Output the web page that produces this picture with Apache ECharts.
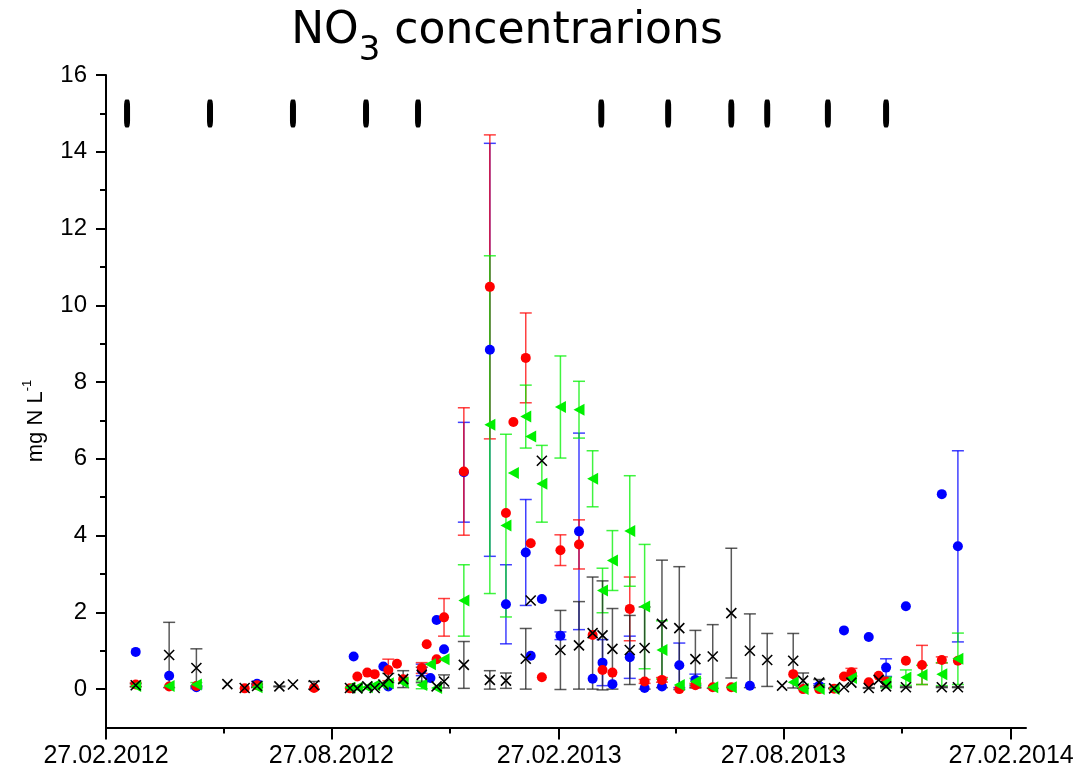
<!DOCTYPE html>
<html>
<head>
<meta charset="utf-8">
<script src="https://cdn.jsdelivr.net/npm/echarts@6/dist/echarts.min.js"></script>
<style>html,body{margin:0;padding:0;background:#fff;}#c{width:1077px;height:773px;}</style>
</head>
<body>
<div id="c"></div>
<script>
// ---------- data ----------
const tickLabels = ['27.02.2012','27.08.2012','27.02.2013','27.08.2013','27.02.2014'];
const minorTickDates = ['2012-06-01','2012-12-01','2013-06-01','2013-12-01'];
const yMajorTicks = [0,2,4,6,8,10,12,14,16];
const yMinorTicks = [1,3,5,7,9,11,13,15];

const eventDates = ['2012-03-15','2012-05-21','2012-07-27','2012-09-24','2012-11-05','2013-04-02','2013-05-26','2013-07-16','2013-08-14','2013-10-02','2013-11-18'];
const eventLevel = 15;

const blueDates = ['2012-03-22','2012-04-18','2012-05-10','2012-06-28','2012-09-14','2012-10-08','2012-10-12','2012-11-08','2012-11-15','2012-11-20','2012-11-26','2012-12-12','2013-01-02','2013-01-15','2013-01-31','2013-02-04','2013-02-13','2013-02-28','2013-03-15','2013-03-26','2013-04-03','2013-04-11','2013-04-25','2013-05-07','2013-05-21','2013-06-04','2013-06-17','2013-07-31','2013-09-25','2013-10-15','2013-11-04','2013-11-18','2013-12-04','2014-01-02','2014-01-15'];
const blueValues = [0.97,0.35,0.05,0.14,0.85,0.59,0.07,0.5,0.29,1.8,1.04,5.65,8.84,2.21,3.56,0.87,2.35,1.39,4.11,0.27,0.69,0.13,0.83,0.03,0.07,0.62,0.24,0.09,0.09,1.53,1.36,0.56,2.16,5.08,3.72];
const blueErr = [0,0,0.04,0.06,0,0,0,0.15,0,0,0,1.3,5.38,1.03,1.38,0,0,0.1,2.56,0,0.6,0,0.55,0,0,0.58,0.15,0,0.05,0,0,0.23,0,0,2.49];

const redDates = ['2012-03-22','2012-04-18','2012-05-10','2012-06-18','2012-06-28','2012-08-13','2012-09-11','2012-09-17','2012-09-25','2012-10-01','2012-10-12','2012-10-19','2012-10-24','2012-11-08','2012-11-12','2012-11-20','2012-11-26','2012-12-12','2013-01-02','2013-01-15','2013-01-21','2013-01-31','2013-02-04','2013-02-13','2013-02-28','2013-03-15','2013-03-26','2013-04-03','2013-04-11','2013-04-25','2013-05-07','2013-05-21','2013-06-04','2013-06-17','2013-07-01','2013-07-16','2013-09-04','2013-09-12','2013-09-25','2013-10-07','2013-10-15','2013-10-21','2013-11-04','2013-11-12','2013-11-18','2013-12-04','2013-12-17','2014-01-02','2014-01-15'];
const redValues = [0.12,0.07,0.08,0.02,0.1,0.03,0.02,0.33,0.43,0.39,0.5,0.66,0.26,0.55,1.17,0.78,1.87,5.67,10.48,4.59,6.96,8.63,3.8,0.31,3.62,3.77,1.41,0.5,0.43,2.09,0.2,0.24,0.0,0.1,0.05,0.05,0.39,0.0,0.0,0.01,0.33,0.44,0.18,0.35,0.2,0.74,0.63,0.76,0.74];
const redErr = [0.05,0,0,0,0.05,0,0,0,0,0,0.28,0,0,0.14,0,0,0.49,1.66,3.96,0,0,1.17,0,0,0.4,0.64,0,0,0,0.83,0.05,0.06,0,0.05,0,0,0,0,0,0,0,0.1,0,0,0,0,0.51,0.08,0];

const greenDates = ['2012-03-22','2012-04-18','2012-05-10','2012-06-28','2012-09-11','2012-09-17','2012-09-25','2012-10-01','2012-10-08','2012-10-12','2012-10-24','2012-11-08','2012-11-15','2012-11-20','2012-11-26','2012-12-12','2013-01-02','2013-01-15','2013-01-21','2013-01-31','2013-02-04','2013-02-13','2013-02-28','2013-03-15','2013-03-26','2013-04-03','2013-04-11','2013-04-25','2013-05-07','2013-05-21','2013-06-04','2013-06-17','2013-07-01','2013-07-16','2013-09-04','2013-09-12','2013-09-25','2013-10-07','2013-10-21','2013-11-18','2013-12-04','2013-12-17','2014-01-02','2014-01-15'];
const greenValues = [0.08,0.08,0.12,0.05,0.04,0.04,0.05,0.1,0.12,0.15,0.17,0.11,0.65,0.03,0.78,2.31,6.89,4.26,5.63,7.1,6.58,5.35,7.35,7.28,5.48,2.57,3.35,4.12,2.15,1.02,0.11,0.2,0.05,0.05,0.18,0.0,0.0,0.0,0.29,0.17,0.3,0.37,0.39,0.79];
const greenErr = [0,0,0.05,0,0,0,0,0,0,0,0,0.1,0,0,0,0.93,4.4,2.38,0,0.82,0,1.0,1.33,0.74,0.73,0.58,0.78,1.44,1.62,0.76,0,0.08,0,0,0,0,0,0,0,0.14,0.2,0.25,0.3,0.67];

const blackDates = ['2012-03-22','2012-04-18','2012-05-10','2012-06-04','2012-06-18','2012-06-28','2012-07-16','2012-07-27','2012-08-13','2012-09-11','2012-09-17','2012-09-25','2012-10-01','2012-10-08','2012-10-12','2012-10-24','2012-11-08','2012-11-20','2012-11-26','2012-12-12','2013-01-02','2013-01-15','2013-01-31','2013-02-04','2013-02-13','2013-02-28','2013-03-15','2013-03-26','2013-04-03','2013-04-11','2013-04-25','2013-05-07','2013-05-21','2013-06-04','2013-06-17','2013-07-01','2013-07-16','2013-07-31','2013-08-14','2013-08-26','2013-09-04','2013-09-12','2013-09-25','2013-10-07','2013-10-15','2013-10-21','2013-11-04','2013-11-12','2013-11-18','2013-12-04','2014-01-02','2014-01-15'];
const blackValues = [0.1,0.89,0.55,0.13,0.03,0.08,0.07,0.12,0.1,0.03,0.02,0.07,0.03,0.12,0.29,0.26,0.37,0.07,0.2,0.63,0.24,0.22,0.79,2.31,5.95,1.02,1.14,1.46,1.4,1.05,1.02,1.07,1.7,1.59,0.78,0.85,1.98,1.0,0.76,0.09,0.74,0.22,0.17,0.02,0.05,0.17,0.03,0.24,0.07,0.05,0.05,0.05];
const blackErr = [0.04,0.85,0.5,0,0,0.04,0.01,0,0.1,0,0,0,0,0,0.12,0.22,0.2,0,0.17,0.61,0.24,0.2,0.79,0,0,1.03,1.14,1.46,1.42,1.05,0.9,1.07,1.66,1.6,0.75,0.83,1.69,0.96,0.69,0,0.71,0.2,0.08,0.01,0,0,0.01,0,0.01,0.01,0.01,0.01];

// ---------- helpers ----------
const T0 = Date.UTC(2012, 1, 27);
function isoDay(s){ const p = s.split('-').map(Number); return (Date.UTC(p[0], p[1]-1, p[2]) - T0) / 864e5; }
function dmyDay(s){ const p = s.split('.').map(Number); return (Date.UTC(p[2], p[1]-1, p[0]) - T0) / 864e5; }
const tickDays = tickLabels.map(dmyDay);
const minorDays = minorTickDates.map(isoDay);

const FONT = 'Liberation Sans';
const BLUE = '#0000ff', RED = '#ff0000', GREEN = '#00f000', BLACK = '#000000';

function pts(dates, vals){ return dates.map((d,i) => [isoDay(d), vals[i]]); }
function errSeries(dates, vals, errs, color, z){
  const data = dates.map((d,i) => [isoDay(d), vals[i], errs[i]]).filter(e => e[2] > 0);
  return {
    type: 'custom', z: z, silent: true,
    data: data,
    encode: {x: 0, y: 1},
    renderItem: function(params, api){
      const x = api.value(0), v = api.value(1), e = api.value(2);
      const top = api.coord([x, v + e]);
      const bot = api.coord([x, v - e]);
      const hw = 6;
      const st = {stroke: color, lineWidth: 1.5, opacity: 0.75};
      return {type: 'group', children: [
        {type: 'line', shape: {x1: top[0], y1: top[1], x2: bot[0], y2: bot[1]}, style: st},
        {type: 'line', shape: {x1: top[0]-hw, y1: top[1], x2: top[0]+hw, y2: top[1]}, style: st},
        {type: 'line', shape: {x1: bot[0]-hw, y1: bot[1], x2: bot[0]+hw, y2: bot[1]}, style: st}
      ]};
    }
  };
}

const chart = echarts.init(document.getElementById('c'), null, {renderer: 'canvas'});
const axisCommon = {
  type: 'value', splitLine: {show: false},
};
chart.setOption({
  animation: false,
  backgroundColor: '#fff',
  grid: {left: 106, right: 51, top: 75, bottom: 45.5, containLabel: false},
  xAxis: [
    Object.assign({}, axisCommon, {
      min: 0, max: 743, position: 'bottom',
      axisLine: {show: true, onZero: false, lineStyle: {color: '#000', width: 2}},
      axisTick: {show: true, customValues: tickDays, length: 12, lineStyle: {color: '#000', width: 2}},
      axisLabel: {show: true, customValues: tickDays, fontFamily: FONT, fontSize: 25, color: '#000', margin: 16,
        formatter: function(v){ let best = ''; tickDays.forEach((t,i) => { if (Math.abs(t - v) < 0.5) best = tickLabels[i]; }); return best; }}
    }),
    Object.assign({}, axisCommon, {
      min: 0, max: 743, position: 'bottom', offset: 0,
      axisLine: {show: false, onZero: false},
      axisTick: {show: true, customValues: minorDays, length: 6, lineStyle: {color: '#000', width: 2}},
      axisLabel: {show: false}
    })
  ],
  yAxis: [
    Object.assign({}, axisCommon, {
      min: -1, max: 16, position: 'left',
      axisLine: {show: true, onZero: false, lineStyle: {color: '#000', width: 2}},
      axisTick: {show: true, customValues: yMajorTicks, length: 10, lineStyle: {color: '#000', width: 2}},
      axisLabel: {show: true, customValues: yMajorTicks, fontFamily: FONT, fontSize: 24, color: '#000', margin: 19}
    }),
    Object.assign({}, axisCommon, {
      min: -1, max: 16, position: 'left', offset: 0,
      axisLine: {show: false, onZero: false},
      axisTick: {show: true, customValues: yMinorTicks, length: 6, lineStyle: {color: '#000', width: 2}},
      axisLabel: {show: false}
    })
  ],
  graphic: [
    {type: 'text', x: 507, y: 32, z: 100,
      style: {text: '{a|NO}{b|3}{a| concentrarions}', align: 'center', verticalAlign: 'middle', fill: '#000',
        rich: {
          a: {fontFamily: 'DejaVu Sans', fontSize: 44, lineHeight: 72, fill: '#000'},
          b: {fontFamily: 'DejaVu Sans', fontSize: 34, lineHeight: 34, verticalAlign: 'bottom', fill: '#000'}
        }}},
    {type: 'text', x: 36, y: 421, rotation: Math.PI / 2, z: 100,
      style: {text: '{a|mg N L}{s|-1}', align: 'center', verticalAlign: 'middle', fill: '#000',
        rich: {
          a: {fontFamily: FONT, fontSize: 22, lineHeight: 30, fill: '#000'},
          s: {fontFamily: FONT, fontSize: 13, lineHeight: 13, verticalAlign: 'top', fill: '#000'}
        }}}
  ],
  series: [
    errSeries(blueDates, blueValues, blueErr, BLUE, 2),
    errSeries(redDates, redValues, redErr, RED, 2),
    errSeries(greenDates, greenValues, greenErr, GREEN, 2),
    errSeries(blackDates, blackValues, blackErr, '#222', 2),
    {type: 'scatter', z: 3, silent: true, data: pts(blueDates, blueValues), symbol: 'circle', symbolSize: 10, itemStyle: {color: BLUE, opacity: 1}},
    {type: 'scatter', z: 4, silent: true, data: pts(redDates, redValues), symbol: 'circle', symbolSize: 10, itemStyle: {color: RED, opacity: 1}},
    {type: 'scatter', z: 5, silent: true, data: pts(greenDates, greenValues), symbol: 'path://M0,5L10,0L10,10Z', symbolSize: [11, 12], itemStyle: {color: GREEN, opacity: 1}},
    {type: 'scatter', z: 6, silent: true, data: pts(blackDates, blackValues), symbol: 'path://M0,0L10,10M10,0L0,10', symbolSize: 10,
      itemStyle: {color: 'none', borderColor: BLACK, borderWidth: 1.6, opacity: 1}},
    {type: 'scatter', z: 6, silent: true, data: eventDates.map(d => [isoDay(d), eventLevel]), symbol: 'roundRect', symbolSize: [6, 28], itemStyle: {color: BLACK, opacity: 1}}
  ]
});
</script>
</body>
</html>
